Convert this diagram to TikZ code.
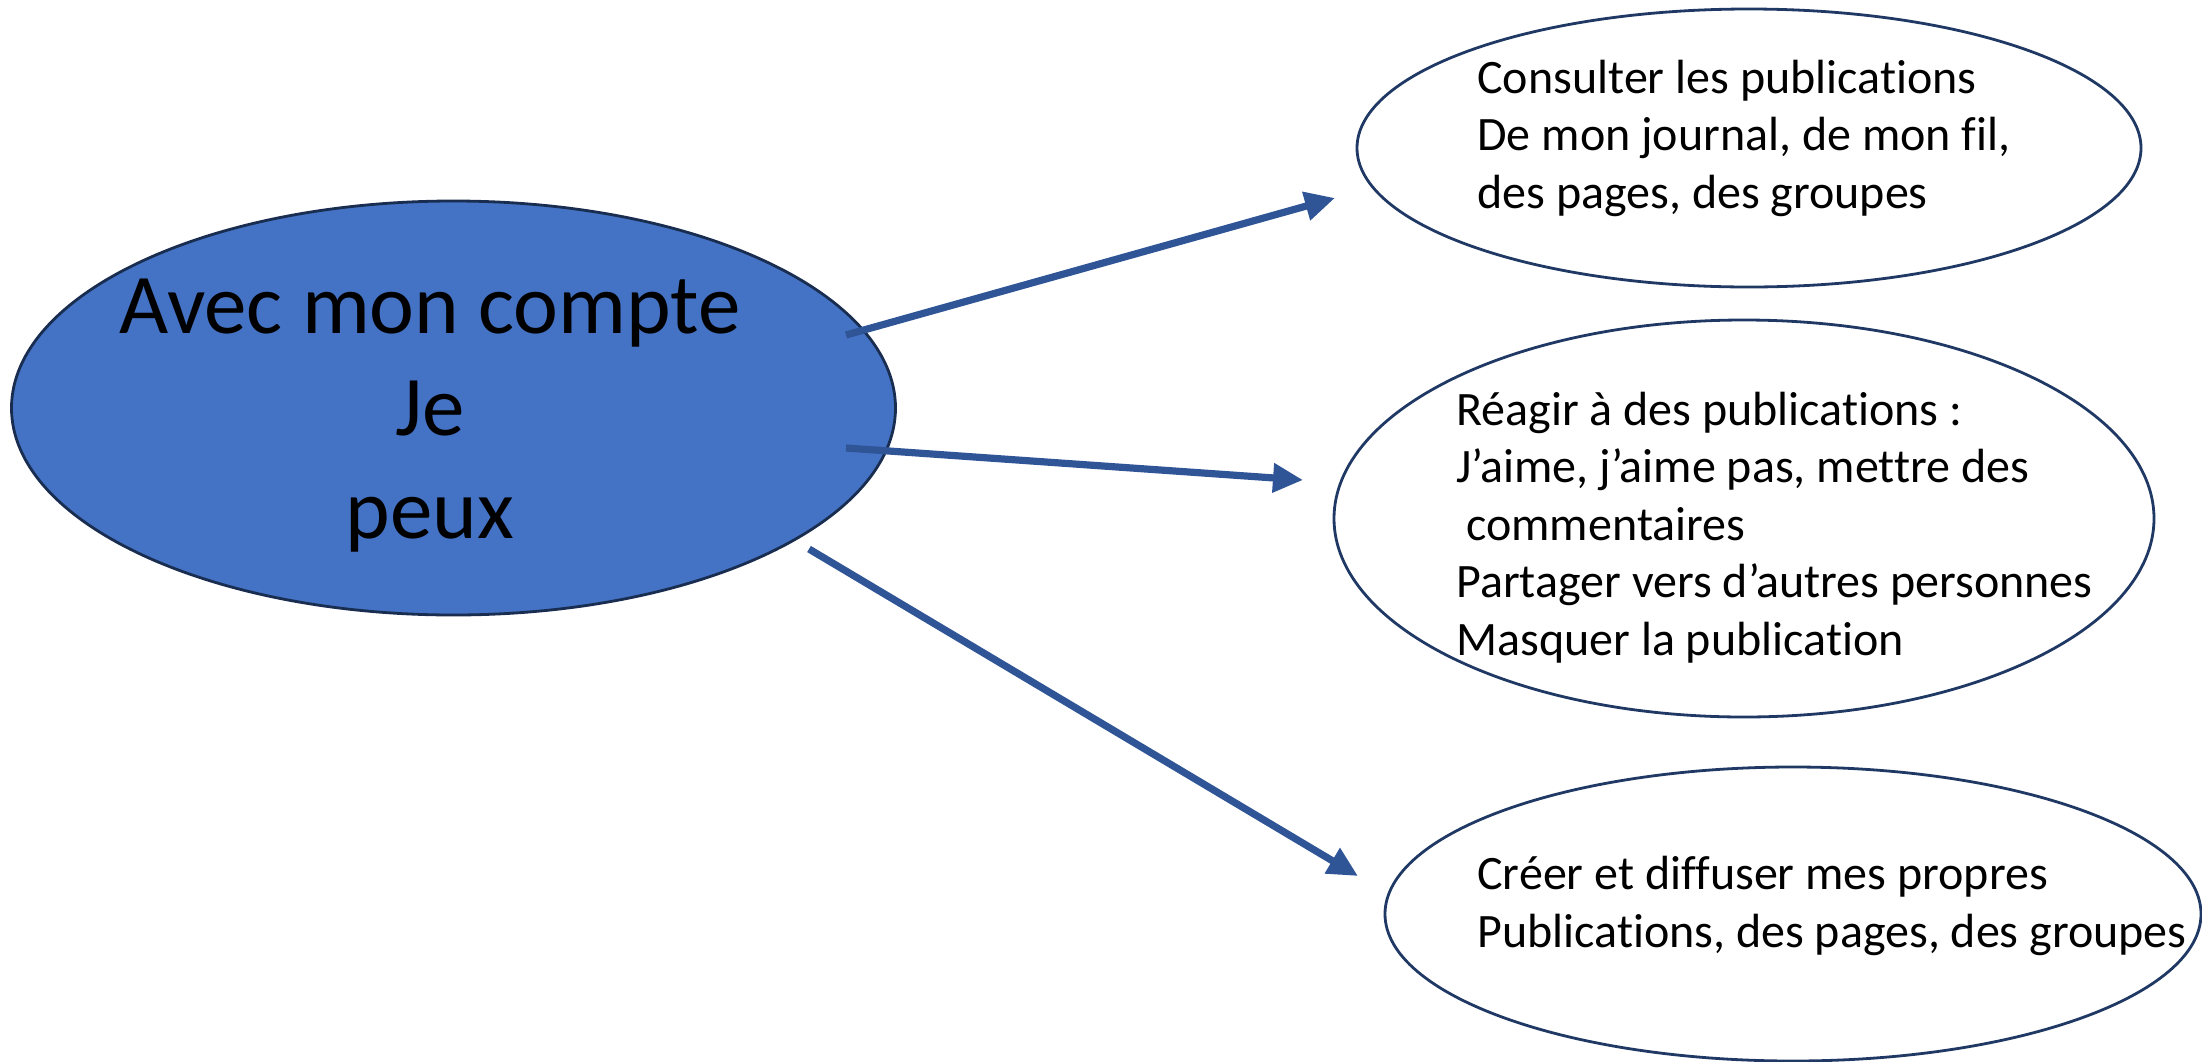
\documentclass[tikz,border=0pt]{standalone}
\usepackage{fontspec}
\setmainfont{Carlito}[Ligatures=NoCommon]
\usetikzlibrary{shapes.geometric,arrows.meta}
\definecolor{fillblue}{HTML}{4472C4}
\definecolor{arrowblue}{HTML}{2F5597}
\definecolor{navy}{HTML}{1F3864}
\tikzset{
  ell/.style={ellipse, draw=navy, line width=1.4pt, inner sep=0pt, outer sep=0pt},
  mainell/.style={ell, fill=fillblue, draw=navy!80!black},
  bigtxt/.style={align=center, font=\fontsize{42.5}{51.25}\selectfont, inner sep=0pt},
  smalltxt/.style={align=left, font=\fontsize{24}{28.75}\selectfont, inner sep=0pt, anchor=base west},
  conn/.style={draw=arrowblue, line width=3.6pt, -{Triangle[length=15pt,width=14pt]}}
}
\begin{document}
\begin{tikzpicture}[x=0.5pt,y=-0.5pt]
\useasboundingbox (0,0) rectangle (2202,1061);
% ellipses
\node[mainell, minimum width=442pt, minimum height=207pt] (main) at (453.5,408) {};
\node[ell, minimum width=392pt, minimum height=139pt] (e1) at (1749,148) {};
\node[ell, minimum width=410pt, minimum height=198.5pt] (e2) at (1744,518.5) {};
\node[ell, minimum width=408pt, minimum height=147pt] (e3) at (1793,914) {};
% texts (base anchor = baseline of the last line)
\node[bigtxt, anchor=base] (mt) at (430,538) {Avec mon compte\\Je\\peux};
\node[smalltxt] (t1) at (1477,208) {Consulter les publications\\De mon journal, de mon fil,\\des pages, des groupes};
\node[smalltxt] (t2) at (1456,655) {Réagir à des publications :\\J’aime, j’aime pas, mettre des\\\hspace*{5pt}commentaires\\Partager vers d’autres personnes\\Masquer la publication};
\node[smalltxt] (t3) at (1477,947) {Créer et diffuser mes propres\\Publications, des pages, des groupes};
% connector ends
\coordinate (s1) at (846,335);
\coordinate (s2) at (846,448);
\coordinate (s3) at (809,549);
\coordinate (f1) at (1335,198);
\coordinate (f2) at (1303,480);
\coordinate (f3) at (1358,876);
\draw[conn] (s1) -- (f1);
\draw[conn] (s2) -- (f2);
\draw[conn] (s3) -- (f3);
\end{tikzpicture}
\end{document}
